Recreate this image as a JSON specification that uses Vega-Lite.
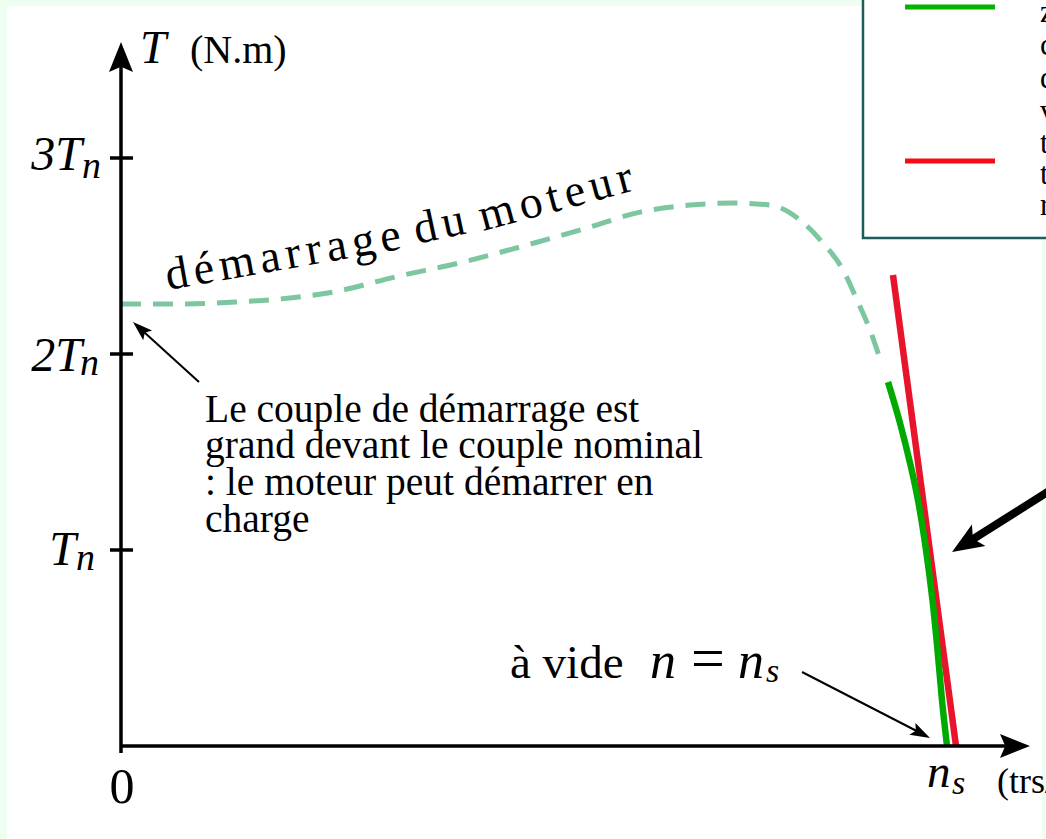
{
  "$schema": "https://vega.github.io/schema/vega-lite/v6.json",
  "width": 1046,
  "height": 839,
  "autosize": {"type": "none"},
  "padding": 0,
  "background": "#eefff2",
  "config": {"view": {"stroke": null}, "text": {"font": "Liberation Serif", "color": "#000000"}},
  "encoding": {
    "x": {"field": "x", "type": "quantitative", "scale": {"domain": [-0.146489, 1.119855], "nice": false, "zero": false}, "axis": null},
    "y": {"field": "y", "type": "quantitative", "scale": {"domain": [-0.47449, 3.806122], "nice": false, "zero": false}, "axis": null}
  },
  "layer": [
    {
      "data": {"values": [{"x": -0.138, "x2": 1.115, "y": -0.6, "y2": 3.7755}]},
      "mark": {"type": "rect", "fill": "#ffffff"},
      "encoding": {"x2": {"field": "x2"}, "y2": {"field": "y2"}}
    },
    {
      "data": {"values": [{"x": 0.8983, "x2": 1.3, "y": 2.592, "y2": 4.2}]},
      "mark": {"type": "rect", "fill": "#ffffff", "stroke": "#1e5c5c", "strokeWidth": 2.5},
      "encoding": {"x2": {"field": "x2"}, "y2": {"field": "y2"}}
    },
    {
      "data": {"values": [{"x": 0.9492, "x2": 1.0581, "y": 3.77}]},
      "mark": {"type": "rule", "strokeWidth": 5, "color": "#00b400"},
      "encoding": {"x2": {"field": "x2"}}
    },
    {
      "data": {"values": [{"x": 0.9492, "x2": 1.0581, "y": 2.985}]},
      "mark": {"type": "rule", "strokeWidth": 5, "color": "#f80a14"},
      "encoding": {"x2": {"field": "x2"}}
    },
    {
      "data": {"values": [
        {"x": 1.1126, "y": 3.694, "t": "zone utile"},
        {"x": 1.1126, "y": 3.526, "t": "caractéristique"},
        {"x": 1.1126, "y": 3.357, "t": "de couple"},
        {"x": 1.1126, "y": 3.189, "t": "vérifiée"},
        {"x": 1.1126, "y": 3.026, "t": "tangente"},
        {"x": 1.1126, "y": 2.867, "t": "tracée"},
        {"x": 1.1126, "y": 2.709, "t": "rectiligne"}
      ]},
      "mark": {"type": "text", "fontSize": 31, "align": "left", "baseline": "alphabetic"},
      "encoding": {"text": {"field": "t"}}
    },
    {
      "data": {"values": [
        {"x": 0, "y": 2.255}, {"x": 0.0714, "y": 2.255}, {"x": 0.138, "y": 2.265}, {"x": 0.2046, "y": 2.286},
        {"x": 0.2567, "y": 2.316}, {"x": 0.3317, "y": 2.393}, {"x": 0.414, "y": 2.469}, {"x": 0.4915, "y": 2.556},
        {"x": 0.5642, "y": 2.643}, {"x": 0.6283, "y": 2.724}, {"x": 0.6889, "y": 2.76}, {"x": 0.7409, "y": 2.77},
        {"x": 0.7857, "y": 2.76}, {"x": 0.822, "y": 2.684}, {"x": 0.8499, "y": 2.566}, {"x": 0.8741, "y": 2.429},
        {"x": 0.891, "y": 2.276}, {"x": 0.9068, "y": 2.122}, {"x": 0.9213, "y": 1.944}
      ]},
      "mark": {"type": "line", "color": "#7cc6a0", "strokeWidth": 5, "strokeDash": [20, 12], "interpolate": "monotone"},
      "encoding": {}
    },
    {
      "data": {"values": [{"x": 0.9346, "y": 2.403}, {"x": 1.0109, "y": 0}]},
      "mark": {"type": "line", "color": "#e8142c", "strokeWidth": 6.5},
      "encoding": {}
    },
    {
      "data": {"values": [
        {"x": 0.9286, "y": 1.857}, {"x": 0.9431, "y": 1.648}, {"x": 0.9564, "y": 1.423}, {"x": 0.9655, "y": 1.24},
        {"x": 0.9746, "y": 1.0}, {"x": 0.9824, "y": 0.745}, {"x": 0.9885, "y": 0.49}, {"x": 0.9939, "y": 0.235}, {"x": 1.0, "y": 0}
      ]},
      "mark": {"type": "line", "color": "#00aa00", "strokeWidth": 6.5, "interpolate": "cardinal"},
      "encoding": {}
    },
    {
      "data": {"values": [
        {"x": 0, "y": -0.0357, "x2": 0, "y2": 3.474},
        {"x": 0, "y": 0, "x2": 1.0702, "y2": 0},
        {"x": -0.01332, "y": 1, "x2": 0.01453, "y2": 1},
        {"x": -0.01332, "y": 2, "x2": 0.01453, "y2": 2},
        {"x": -0.01332, "y": 3, "x2": 0.01453, "y2": 3}
      ]},
      "mark": {"type": "rule", "strokeWidth": 3.5, "color": "#000000"},
      "encoding": {"x2": {"field": "x2"}, "y2": {"field": "y2"}}
    },
    {
      "data": {"values": [{"x": 0, "y": 3.592, "a": 0}, {"x": 1.1005, "y": 0, "a": 90}]},
      "mark": {"type": "point", "shape": "M0,0 L0.75,1.875 L0,1.55 L-0.75,1.875 Z", "size": 1024, "filled": true, "color": "#000000", "opacity": 1, "strokeWidth": 0},
      "encoding": {"angle": {"field": "a", "type": "quantitative", "scale": null}}
    },
    {
      "data": {"values": [
        {"x": 0.0944, "y": 1.857, "x2": 0.0278, "y2": 2.112},
        {"x": 0.8245, "y": 0.3776, "x2": 0.9633, "y2": 0.0765}
      ]},
      "mark": {"type": "rule", "strokeWidth": 2, "color": "#000000"},
      "encoding": {"x2": {"field": "x2"}, "y2": {"field": "y2"}}
    },
    {
      "data": {"values": [{"x": 0.01453, "y": 2.163, "a": 312.3}, {"x": 0.9794, "y": 0.0408, "a": 117.3}]},
      "mark": {"type": "point", "shape": "M0,0 L0.6,1.8 L0,1.45 L-0.6,1.8 Z", "size": 484, "filled": true, "color": "#000000", "opacity": 1, "strokeWidth": 0},
      "encoding": {"angle": {"field": "a", "type": "quantitative", "scale": null}}
    },
    {
      "data": {"values": [{"x": 1.1392, "y": 1.342, "x2": 1.0315, "y2": 1.056}]},
      "mark": {"type": "rule", "strokeWidth": 8, "color": "#000000"},
      "encoding": {"x2": {"field": "x2"}, "y2": {"field": "y2"}}
    },
    {
      "data": {"values": [{"x": 1.0061, "y": 0.99, "a": 237.9}]},
      "mark": {"type": "point", "shape": "M0,0 L0.75,1.85 L0,1.45 L-0.75,1.85 Z", "size": 1156, "filled": true, "color": "#000000", "opacity": 1, "strokeWidth": 0},
      "encoding": {"angle": {"field": "a", "type": "quantitative", "scale": null}}
    },
    {
      "data": {"values": [
        {"x": 0.0706, "y": 2.3367, "t": "d", "a": -10},
        {"x": 0.1030, "y": 2.3607, "t": "é", "a": -10},
        {"x": 0.1431, "y": 2.3903, "t": "m", "a": -10},
        {"x": 0.1832, "y": 2.4204, "t": "a", "a": -10},
        {"x": 0.2110, "y": 2.4408, "t": "r", "a": -10},
        {"x": 0.2358, "y": 2.4592, "t": "r", "a": -10},
        {"x": 0.2637, "y": 2.4801, "t": "a", "a": -10},
        {"x": 0.2961, "y": 2.5041, "t": "g", "a": -10},
        {"x": 0.3286, "y": 2.5281, "t": "e", "a": -10},
        {"x": 0.3719, "y": 2.5735, "t": "d", "a": -12},
        {"x": 0.4057, "y": 2.6036, "t": "u", "a": -12},
        {"x": 0.4592, "y": 2.6510, "t": "m", "a": -15},
        {"x": 0.5000, "y": 2.6974, "t": "o", "a": -15},
        {"x": 0.5274, "y": 2.7281, "t": "t", "a": -15},
        {"x": 0.5533, "y": 2.7577, "t": "e", "a": -15},
        {"x": 0.5850, "y": 2.7934, "t": "u", "a": -15},
        {"x": 0.6138, "y": 2.8260, "t": "r", "a": -15}
      ]},
      "mark": {"type": "text", "fontSize": 46, "align": "center", "baseline": "alphabetic"},
      "encoding": {"text": {"field": "t"}, "angle": {"field": "a", "type": "quantitative", "scale": null}}
    },
    {
      "data": {"values": [
        {"x": 0.1017, "y": 1.653, "t": "Le couple de démarrage est"},
        {"x": 0.1017, "y": 1.469, "t": "grand devant le couple nominal"},
        {"x": 0.1017, "y": 1.281, "t": ": le moteur peut démarrer en"},
        {"x": 0.1017, "y": 1.092, "t": "charge"}
      ]},
      "mark": {"type": "text", "fontSize": 39.5, "align": "left", "baseline": "alphabetic"},
      "encoding": {"text": {"field": "t"}}
    },
    {
      "data": {"values": [
        {"x": 0.4709, "y": 0.347, "t": "à vide"}
      ]},
      "mark": {"type": "text", "fontSize": 47, "align": "left", "baseline": "alphabetic"},
      "encoding": {"text": {"field": "t"}}
    },
    {
      "data": {"values": [
        {"x": 0.6901, "y": 0.347, "t": "="}
      ]},
      "mark": {"type": "text", "fontSize": 60, "align": "left", "baseline": "alphabetic"},
      "encoding": {"text": {"field": "t"}}
    },
    {
      "data": {"values": [
        {"x": 0.6404, "y": 0.347, "t": "n"},
        {"x": 0.747, "y": 0.347, "t": "n"}
      ]},
      "mark": {"type": "text", "fontSize": 52, "fontStyle": "italic", "align": "left", "baseline": "alphabetic"},
      "encoding": {"text": {"field": "t"}}
    },
    {
      "data": {"values": [
        {"x": 0.9758, "y": -0.2092, "t": "n"},
        {"x": 0.023, "y": 3.485, "t": "T"}
      ]},
      "mark": {"type": "text", "fontSize": 47, "fontStyle": "italic", "align": "left", "baseline": "alphabetic"},
      "encoding": {"text": {"field": "t"}}
    },
    {
      "data": {"values": [
        {"x": 0.7809, "y": 0.3265, "t": "s"},
        {"x": 1.006, "y": -0.2449, "t": "s"}
      ]},
      "mark": {"type": "text", "fontSize": 34, "fontStyle": "italic", "align": "left", "baseline": "alphabetic"},
      "encoding": {"text": {"field": "t"}}
    },
    {
      "data": {"values": [
        {"x": -0.0472, "y": 2.939, "t": "3T"},
        {"x": -0.0472, "y": 1.913, "t": "2T"},
        {"x": -0.0545, "y": 0.923, "t": "T"}
      ]},
      "mark": {"type": "text", "fontSize": 48, "fontStyle": "italic", "align": "right", "baseline": "alphabetic"},
      "encoding": {"text": {"field": "t"}}
    },
    {
      "data": {"values": [
        {"x": -0.0472, "y": 2.898, "t": "n"},
        {"x": -0.0496, "y": 1.893, "t": "n"},
        {"x": -0.0545, "y": 0.898, "t": "n"}
      ]},
      "mark": {"type": "text", "fontSize": 38, "fontStyle": "italic", "align": "left", "baseline": "alphabetic"},
      "encoding": {"text": {"field": "t"}}
    },
    {
      "data": {"values": [
        {"x": 0.0835, "y": 3.485, "t": "(N.m)"}
      ]},
      "mark": {"type": "text", "fontSize": 40, "align": "left", "baseline": "alphabetic"},
      "encoding": {"text": {"field": "t"}}
    },
    {
      "data": {"values": [
        {"x": 1.0605, "y": -0.2398, "t": "(trs/min)"}
      ]},
      "mark": {"type": "text", "fontSize": 36, "align": "left", "baseline": "alphabetic"},
      "encoding": {"text": {"field": "t"}}
    },
    {
      "data": {"values": [{"x": 0.0012, "y": -0.2908, "t": "0"}]},
      "mark": {"type": "text", "fontSize": 50, "align": "center", "baseline": "alphabetic"},
      "encoding": {"text": {"field": "t"}}
    }
  ]
}
